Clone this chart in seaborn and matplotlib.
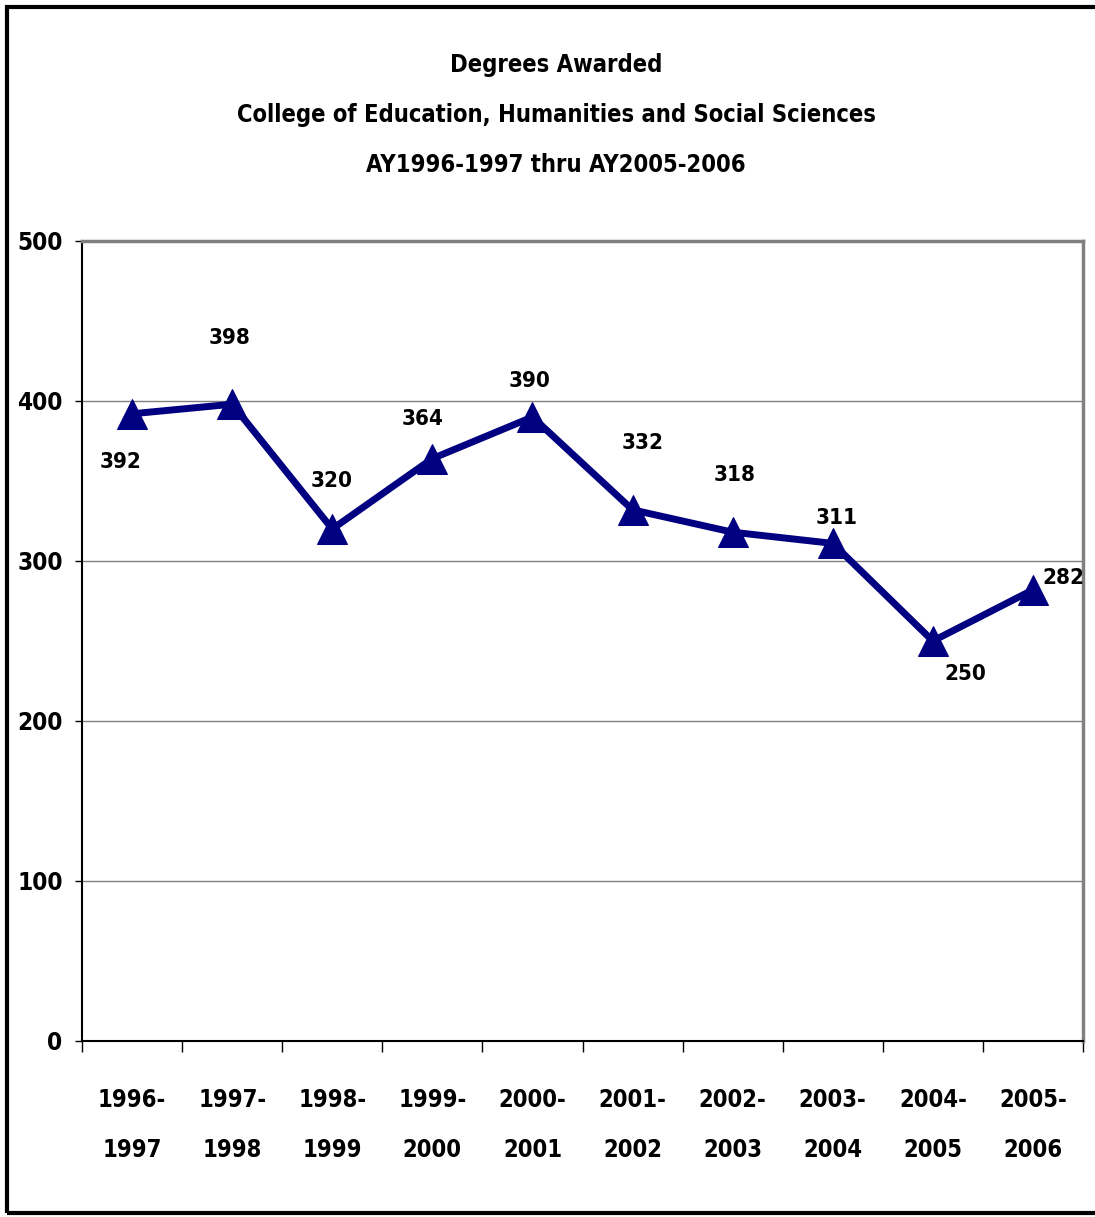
import matplotlib
matplotlib.use("Agg")
import matplotlib.pyplot as plt
from matplotlib import font_manager
import seaborn as sns
import numpy as np
import pandas as pd

categories = ["1996-\n1997", "1997-\n1998", "1998-\n1999", "1999-\n2000", "2000-\n2001",
              "2001-\n2002", "2002-\n2003", "2003-\n2004", "2004-\n2005", "2005-\n2006"]
degrees = [392, 398, 320, 364, 390, 332, 318, 311, 250, 282]
label_offsets_px = [(-11, -48), (-3, 66), (-1, 48), (-10, 40), (-3, 36),
                    (10, 67), (2, 57), (4, 25), (32, -33), (30, 12)]
yticks = [0, 100, 200, 300, 400, 500]
title_lines = ["Degrees Awarded",
               "College of Education, Humanities and Social Sciences",
               "AY1996-1997 thru AY2005-2006"]

sns.set_theme(style="white")
names = {f.name for f in font_manager.fontManager.ttflist}
if "Liberation Sans Narrow" in names:
    plt.rcParams['font.family'] = ["Liberation Sans Narrow", 'DejaVu Sans']
else:
    plt.rcParams['font.family'] = ['DejaVu Sans']
    plt.rcParams['font.stretch'] = 'condensed'
plt.rcParams['font.weight'] = 'bold'
plt.rcParams['text.color'] = 'black'
plt.rcParams['xtick.color'] = 'black'
plt.rcParams['ytick.color'] = 'black'
plt.rcParams['xtick.labelcolor'] = 'black'
plt.rcParams['ytick.labelcolor'] = 'black'

W, H, DPI = 1095, 1217, 100
fig = plt.figure(figsize=(W / DPI, H / DPI), dpi=DPI)
fig.patch.set_facecolor("white")
ax = fig.add_axes([82 / W, 176 / H, (1083 - 82) / W, (1041 - 241) / H])

df = pd.DataFrame({"x": np.arange(len(degrees)), "y": degrees})
sns.lineplot(data=df, x="x", y="y", ax=ax, color="#000080", linewidth=5,
             marker="^", markersize=22, markeredgecolor="#000080", sort=False)

ax.set_xlim(-0.5, len(degrees) - 0.5)
ax.set_ylim(0, 500)
ax.set_yticks(yticks)
ax.set_yticklabels([str(v) for v in yticks], fontsize=17.5, fontweight="bold")
ax.yaxis.grid(True, color="#808080", linewidth=1)
ax.set_axisbelow(True)

ax.set_xticks(np.arange(len(degrees) + 1) - 0.5)
ax.set_xticklabels([])
ax.set_xticks(np.arange(len(degrees)), minor=True)
ax.set_xticklabels(categories, minor=True, fontsize=17, fontweight="bold", linespacing=2.35)
ax.tick_params(axis="x", which="major", direction="out", length=8, width=1, color="black", bottom=True)
ax.tick_params(axis="x", which="minor", length=0, pad=34)
ax.tick_params(axis="y", direction="out", length=5, width=1, color="black", left=True, pad=9)
ax.set_xlabel("")
ax.set_ylabel("")

for s in ["left", "bottom"]:
    ax.spines[s].set_color("black")
    ax.spines[s].set_linewidth(1.5)
for s in ["top", "right"]:
    ax.spines[s].set_color("#808080")
    ax.spines[s].set_linewidth(2.5)

for i, (v, (dx, dy)) in enumerate(zip(degrees, label_offsets_px)):
    ax.annotate(str(v), (i, v), xytext=(dx, dy), textcoords="offset pixels",
                ha="center", va="center", fontsize=16, fontweight="bold", color="black")

for k, t in enumerate(title_lines):
    fig.text(556 / W, 1 - (65 + 50 * k) / H, t, ha="center", va="center",
             fontsize=17, fontweight="bold", color="black")

fig.add_artist(plt.Rectangle((7 / W, 4 / H), (1120 - 7) / W, (1210 - 4) / H,
                             transform=fig.transFigure, fill=False,
                             edgecolor="black", linewidth=3))

fig.savefig("out.png", dpi=DPI, facecolor="white")
